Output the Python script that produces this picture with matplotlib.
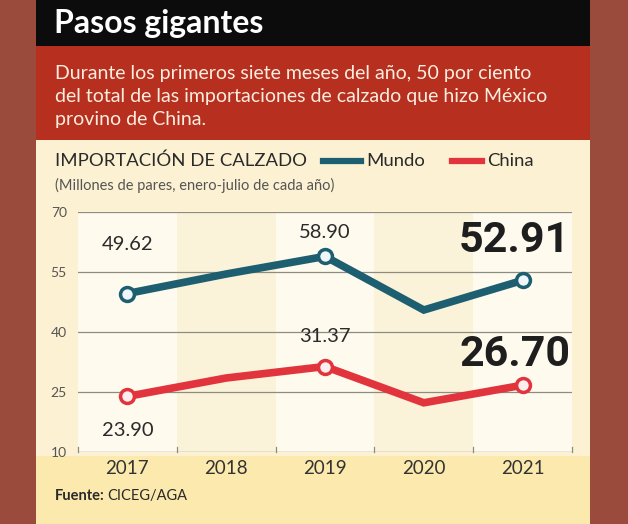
import matplotlib
matplotlib.use("Agg")
import matplotlib.pyplot as plt
from matplotlib.patches import Rectangle

years = [2017, 2018, 2019, 2020, 2021]
mundo = [49.62, 54.5, 58.90, 45.5, 52.91]
china = [23.90, 28.5, 31.37, 22.3, 26.70]
yticks = [10, 25, 40, 55, 70]

W, H = 628, 524
OUTER = "#9b4b3c"
BAR = "#0c0c0c"
RED_BAND = "#b7301f"
CREAM = "#fcf1d2"
BOTTOM = "#fbe9ad"
TEAL = "#1d5e70"
RED = "#e2343c"
FONT = ["Lato", "DejaVu Sans"]

plt.rcParams["font.family"] = FONT

fig = plt.figure(figsize=(W / 100, H / 100), dpi=100)
fig.patch.set_facecolor(OUTER)


def rect(x0, y0, x1, y1, color, z=-10):
    # coords in pixels, y from top
    fig.patches.append(Rectangle((x0 / W, 1 - y1 / H), (x1 - x0) / W, (y1 - y0) / H,
                                 transform=fig.transFigure, color=color, zorder=z, lw=0))


rect(36, 0, 590, 46, BAR)
rect(36, 46, 590, 140, RED_BAND)
rect(36, 140, 590, 524, CREAM)
rect(36, 456, 590, 524, BOTTOM)


def ftext(x, y, s, **kw):
    fig.text(x / W, 1 - y / H, s, **kw)


ftext(54, 23, "Pasos gigantes", color="white", fontsize=23, fontweight="bold", va="center")
sub = ["Durante los primeros siete meses del año, 50 por ciento",
       "del total de las importaciones de calzado que hizo México",
       "provino de China."]
for i, line in enumerate(sub):
    ftext(55, 73 + i * 23.5, line, color="#fbeee0", fontsize=14, va="center")

ftext(55, 161, "IMPORTACIÓN DE CALZADO", color="#2a2a2a", fontsize=13.3, va="center")
fig.lines.append(plt.Line2D([323 / W, 361 / W], [1 - 161 / H] * 2, transform=fig.transFigure,
                            color=TEAL, lw=4.5))
ftext(366, 161, "Mundo", color="#2a2a2a", fontsize=13.3, va="center")
fig.lines.append(plt.Line2D([452 / W, 482 / W], [1 - 161 / H] * 2, transform=fig.transFigure,
                            color=RED, lw=4.5))
ftext(487, 161, "China", color="#2a2a2a", fontsize=13.3, va="center")
ftext(55, 185, "(Millones de pares, enero-julio de cada año)", color="#555555", fontsize=10.5,
      va="center")
ftext(55, 496, "Fuente:", color="#2a2a2a", fontsize=10.5, fontweight="bold", va="center")
ftext(107, 496, "CICEG/AGA", color="#2a2a2a", fontsize=10.5, va="center")

ax = fig.add_axes([78 / W, 1 - 452 / H, (572 - 78) / W, (452 - 212) / H])
ax.set_facecolor("none")
ax.set_xlim(2016.5, 2021.5)
ax.set_ylim(10, 70)

# alternating column bands
for i, yr in enumerate(years):
    ax.axvspan(yr - 0.5, yr + 0.5, color="#fefaee" if i % 2 == 0 else "#fbf2da", zorder=0, lw=0)

for y in yticks[1:]:
    ax.axhline(y, color="#8c8c80", lw=0.9, zorder=1)
ax.axhline(10, color="#8c8c80", lw=1.0, zorder=1)

for s in ax.spines.values():
    s.set_visible(False)
ax.set_yticks(yticks)
ax.set_yticklabels([str(v) for v in yticks], color="#555555", fontsize=10)
ax.tick_params(axis="y", length=0, pad=8)
ax.set_xticks(years)
ax.set_xticklabels([str(y) for y in years], color="#333333", fontsize=13.5)
ax.tick_params(axis="x", length=0, pad=6)
for b in [2016.5 + k for k in range(6)]:
    ax.plot([b, b], [10, 11.2], color="#8c8c80", lw=0.9, zorder=1, clip_on=False)

ax.plot(years, mundo, color=TEAL, lw=5.5, zorder=3, solid_joinstyle="miter")
ax.plot(years, china, color=RED, lw=5.5, zorder=3, solid_joinstyle="miter")
for yr, v in zip(years, mundo):
    if yr != 2018 and yr != 2020:
        ax.plot(yr, v, "o", ms=10, mfc="#eef6fa", mec=TEAL, mew=2.5, zorder=4)
for yr, v in zip(years, china):
    if yr != 2018 and yr != 2020:
        ax.plot(yr, v, "o", ms=10, mfc="#fbeeee", mec=RED, mew=2.5, zorder=4)

lab = dict(color="#2a2a2a", fontsize=14.5, ha="center", va="center", zorder=5)
ax.text(2017, 61.8, "49.62", **lab)
ax.text(2019, 65.0, "58.90", **lab)
ax.text(2019, 38.8, "31.37", **lab)
ax.text(2017, 15.4, "23.90", **lab)
big = dict(color="#1e1e1e", fontsize=31, fontweight="bold", ha="right", va="center",
           family=["Roboto", "DejaVu Sans"], zorder=5)
ax.text(2021.48, 63.0, "52.91", **big)
ax.text(2021.48, 34.4, "26.70", **big)

fig.savefig("out.png", dpi=100, facecolor=fig.get_facecolor())
